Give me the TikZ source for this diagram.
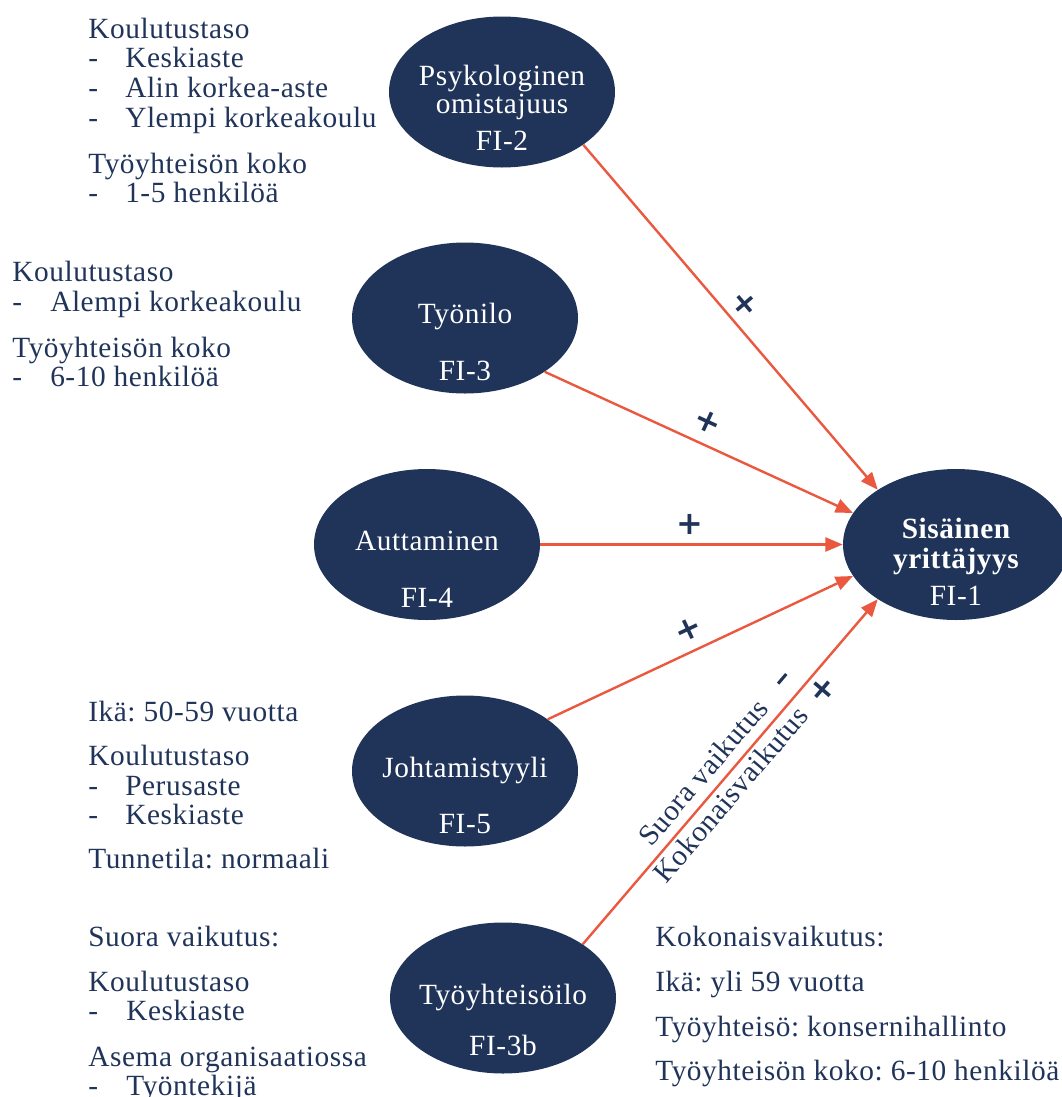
\documentclass[tikz,border=0pt]{standalone}
\usepackage{fontspec}
\setmainfont{Liberation Serif}[LetterSpace=2]
\newfontfamily\signfont{DejaVu Sans}
\usetikzlibrary{shapes.geometric,arrows.meta}
\definecolor{navy}{RGB}{32,52,90}
\definecolor{accent}{RGB}{234,88,64}
\newcommand{\txtsize}{\fontsize{22}{24}\selectfont}
\frenchspacing

\begin{document}
\begin{tikzpicture}[x=0.75pt,y=-0.75pt,
  txt/.style={anchor=base west, inner sep=0pt, text=navy, font=\txtsize},
  intxt/.style={anchor=base, inner sep=0pt, text=white, font=\txtsize},
  factor/.style={ellipse, fill=navy, minimum width=169.5pt, minimum height=113.25pt, inner sep=0pt},
  link/.style={draw=accent, line width=1.8pt, -{Triangle[length=13pt,width=10.5pt]}},
  sign/.style={text=navy, font=\signfont\bfseries\fontsize{24}{24}\selectfont, inner sep=0pt, sloped},
  effect/.style={text=navy, font=\txtsize, inner sep=0pt, sloped}]
\useasboundingbox (0,0) rectangle (1062,1097);
\clip (0,0) rectangle (1062,1097);

% factors
\node[factor] (fi2) at (502,92) {};
\node[intxt] (fi2a) at (502,85) {Psykologinen};
\node[intxt] (fi2b) at (502,113) {omistajuus};
\node[intxt] (fi2c) at (502,150) {FI-2};

\node[factor] (fi3) at (465,318) {};
\node[intxt] (fi3a) at (465,323) {Työnilo};
\node[intxt] (fi3c) at (465,380) {FI-3};

\node[factor] (fi4) at (427,544.5) {};
\node[intxt] (fi4a) at (427,550) {Auttaminen};
\node[intxt] (fi4c) at (427,607) {FI-4};

\node[factor] (fi5) at (465,771) {};
\node[intxt] (fi5a) at (465,777) {Johtamistyyli};
\node[intxt] (fi5c) at (465,833) {FI-5};

\node[factor] (fi3b) at (503,998) {};
\node[intxt] (fi3ba) at (503,1004) {Työyhteisöilo};
\node[intxt] (fi3bc) at (503,1055) {FI-3b};

\node[factor] (fi1) at (956,544.5) {};
\node[intxt, font=\txtsize\bfseries] (fi1a) at (956,538) {Sisäinen};
\node[intxt, font=\txtsize\bfseries] (fi1b) at (956,568) {yrittäjyys};
\node[intxt] (fi1c) at (956,605) {FI-1};

% effects
\draw[link] (fi2.-33.2) -- (fi1.145.6)
  node[sign, pos=0.5, above=14.6pt, anchor=center] (s2) {+};
\draw[link] (fi3.-34.5) -- (fi1.163.7)
  node[sign, pos=0.5, above=16.9pt, anchor=center] (s3) {+};
\draw[link] (fi4.0) -- (fi1.180)
  node[sign, pos=0.495, above=15pt, anchor=center] (s4) {+};
\draw[link] (fi5.32.9) -- (fi1.197.9)
  node[sign, pos=0.49, above=15.9pt, anchor=center] (s5) {+};
\draw[link] (fi3b.34) -- (fi1.215.4)
  node[effect, pos=0.46, above=8pt, anchor=base] (d1) {Suora vaikutus}
  node[effect, pos=0.463, below=18.7pt, anchor=base] (t1) {Kokonaisvaikutus}
  node[sign, pos=0.73, above=15.7pt, anchor=center] (s6) {\rule{9.5pt}{2.3pt}}
  node[sign, pos=0.77, below=12.6pt, anchor=center] (s7) {+};

% moderators of FI-2
\node[txt] (a1) at (88,38) {Koulutustaso};
\node[txt] (a2) at (88,67.5) {-};
\node[txt] (a2t) at (125,67.5) {Keskiaste};
\node[txt] (a3) at (88,97) {-};
\node[txt] (a3t) at (125,97) {Alin korkea-aste};
\node[txt] (a4) at (88,127) {-};
\node[txt] (a4t) at (125,127) {Ylempi korkeakoulu};
\node[txt] (a5) at (88,173) {Työyhteisön koko};
\node[txt] (a6) at (88,202) {-};
\node[txt] (a6t) at (125,202) {1-5 henkilöä};

% moderators of FI-3
\node[txt] (b1) at (12,281) {Koulutustaso};
\node[txt] (b2) at (12,311) {-};
\node[txt] (b2t) at (50,311) {Alempi korkeakoulu};
\node[txt] (b3) at (12,357) {Työyhteisön koko};
\node[txt] (b4) at (12,386) {-};
\node[txt] (b4t) at (50,386) {6-10 henkilöä};

% moderators of FI-5
\node[txt] (c1) at (88,721) {Ikä: 50-59 vuotta};
\node[txt] (c2) at (88,765) {Koulutustaso};
\node[txt] (c3) at (88,795) {-};
\node[txt] (c3t) at (125,795) {Perusaste};
\node[txt] (c4) at (88,824) {-};
\node[txt] (c4t) at (125,824) {Keskiaste};
\node[txt] (c5) at (88,868) {Tunnetila: normaali};

% moderators of FI-3b, direct effect
\node[txt] (d2) at (88,946.7) {Suora vaikutus:};
\node[txt] (d3) at (88,991.7) {Koulutustaso};
\node[txt] (d4) at (88,1020) {-};
\node[txt] (d4t) at (126,1020) {Keskiaste};
\node[txt] (d5) at (88,1066.7) {Asema organisaatiossa};
\node[txt] (d6) at (88,1095) {-};
\node[txt] (d6t) at (126,1095) {Työntekijä};

% moderators of FI-3b, total effect
\node[txt] (t2) at (655,946.7) {Kokonaisvaikutus:};
\node[txt] (t3) at (655,991.7) {Ikä: yli 59 vuotta};
\node[txt] (t4) at (655,1036.7) {Työyhteisö: konsernihallinto};
\node[txt] (t5) at (655,1080) {Työyhteisön koko: 6-10 henkilöä};
\end{tikzpicture}
\end{document}
